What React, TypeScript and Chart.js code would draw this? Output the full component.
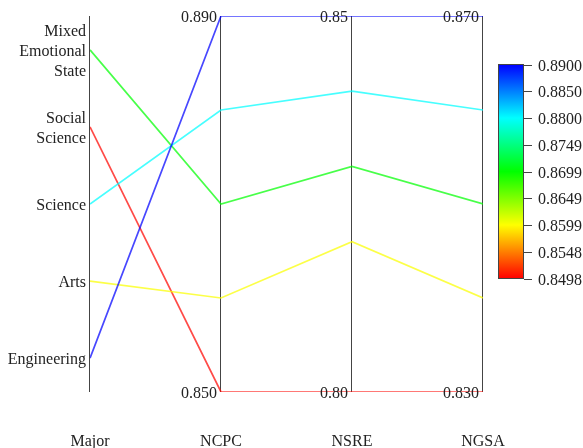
import React, { useEffect, useRef } from 'react';
import { Chart, registerables } from 'chart.js';

Chart.register(...registerables);

// ---- data ----
const dimensions = ['Major', 'NCPC', 'NSRE', 'NGSA'];
const majorCategories = ['Engineering', 'Arts', 'Science', 'Social Science', 'Mixed Emotional State'];
const majorLabelLines = [['Engineering'], ['Arts'], ['Science'], ['Social', 'Science'], ['Mixed', 'Emotional', 'State']];
const majorIndex = [0, 1, 2, 3, 4];
const ncpcValues = [0.890, 0.860, 0.880, 0.850, 0.870];
const nsreValues = [0.85, 0.82, 0.84, 0.80, 0.83];
const ngsaValues = [0.870, 0.840, 0.860, 0.830, 0.850];
const majorRange = [-0.44, 4.44];
const ncpcRange = [0.850, 0.890];
const nsreRange = [0.80, 0.85];
const ngsaRange = [0.830, 0.870];
const ncpcTickLabels = ['0.850', '0.890'];
const nsreTickLabels = ['0.80', '0.85'];
const ngsaTickLabels = ['0.830', '0.870'];
const colorRange = [0.8498, 0.8900];
const colorbarTickValues = [0.8498, 0.8548, 0.8599, 0.8649, 0.8699, 0.8749, 0.8800, 0.8850, 0.8900];
const colorbarTickLabels = ['0.8498', '0.8548', '0.8599', '0.8649', '0.8699', '0.8749', '0.8800', '0.8850', '0.8900'];

const FONT = '16px "Liberation Serif"';
const TEXT = '#222';

const colorStops: [number, number[]][] = [
  [0, [255, 0, 0]],
  [0.25, [255, 255, 0]],
  [0.5, [0, 255, 0]],
  [0.75, [0, 255, 255]],
  [1, [0, 0, 255]],
];

function colorAt(t: number): number[] {
  t = Math.max(0, Math.min(1, t));
  for (let i = 1; i < colorStops.length; i++) {
    const [t1, c1] = colorStops[i];
    const [t0, c0] = colorStops[i - 1];
    if (t <= t1) {
      const f = (t - t0) / (t1 - t0);
      return c0.map((v, k) => Math.round(v + (c1[k] - v) * f));
    }
  }
  return colorStops[colorStops.length - 1][1];
}

const norm = (v: number, r: number[]) => (v - r[0]) / (r[1] - r[0]);

const datasets = majorCategories.map((name, i) => {
  const t = norm(ncpcValues[i], colorRange);
  const c = colorAt(t);
  return {
    label: name,
    data: [
      { x: 0, y: norm(majorIndex[i], majorRange) },
      { x: 1, y: norm(ncpcValues[i], ncpcRange) },
      { x: 2, y: norm(nsreValues[i], nsreRange) },
      { x: 3, y: norm(ngsaValues[i], ngsaRange) },
    ],
    borderColor: `rgba(${c[0]},${c[1]},${c[2]},0.72)`,
    borderWidth: 1.7,
    pointRadius: 0,
    tension: 0,
    fill: false,
  };
});

const numericAxes = [
  { range: ncpcRange, labels: ncpcTickLabels },
  { range: nsreRange, labels: nsreTickLabels },
  { range: ngsaRange, labels: ngsaTickLabels },
];

const parcoordsPlugin = {
  id: 'parcoords',
  beforeDatasetsDraw(chart: any) {
    const { ctx, chartArea, scales } = chart;
    ctx.save();
    ctx.strokeStyle = '#444';
    ctx.lineWidth = 1;
    dimensions.forEach((_, i) => {
      const x = scales.x.getPixelForValue(i) - 0.5;
      ctx.beginPath();
      ctx.moveTo(x, chartArea.top);
      ctx.lineTo(x, chartArea.bottom);
      ctx.stroke();
    });
    ctx.restore();
  },
  afterDatasetsDraw(chart: any) {
    const { ctx, scales } = chart;
    const xs = scales.x;
    const ys = scales.y;
    ctx.save();
    ctx.font = FONT;
    ctx.fillStyle = TEXT;
    ctx.textBaseline = 'alphabetic';

    // Major category labels
    ctx.textAlign = 'right';
    const x0 = xs.getPixelForValue(0);
    majorLabelLines.forEach((lines, i) => {
      const y = ys.getPixelForValue(norm(majorIndex[i], majorRange));
      lines.forEach((ln, k) => {
        const off = (k - (lines.length - 1) / 2) * 20;
        ctx.fillText(ln, x0 - 4, y + 6 + off);
      });
    });

    // numeric axes min/max labels
    numericAxes.forEach((ax, j) => {
      const x = xs.getPixelForValue(j + 1);
      const yb = ys.getPixelForValue(0);
      const yt = ys.getPixelForValue(1);
      ctx.fillText(ax.labels[0], x - 4, yb + 6);
      ctx.fillText(ax.labels[1], x - 4, yt + 6);
    });

    // axis titles
    ctx.textAlign = 'center';
    dimensions.forEach((d, i) => {
      ctx.fillText(d, xs.getPixelForValue(i), 446);
    });

    // colorbar
    const cbL = 498, cbR = 524, cbT = 64.5, cbB = 278.5;
    const grad = ctx.createLinearGradient(0, cbB, 0, cbT);
    colorStops.forEach(([t, c]) => grad.addColorStop(t, `rgb(${c[0]},${c[1]},${c[2]})`));
    ctx.fillStyle = grad;
    ctx.fillRect(cbL, cbT, cbR - cbL, cbB - cbT);
    ctx.strokeStyle = '#444';
    ctx.lineWidth = 1;
    ctx.strokeRect(cbL + 0.5, cbT, cbR - cbL - 1, cbB - cbT);
    ctx.fillStyle = TEXT;
    ctx.textAlign = 'left';
    colorbarTickValues.forEach((v, i) => {
      const y = cbB - norm(v, colorRange) * (cbB - cbT);
      ctx.beginPath();
      ctx.moveTo(cbR, Math.round(y) + 0.5);
      ctx.lineTo(cbR + 8, Math.round(y) + 0.5);
      ctx.stroke();
      ctx.fillText(colorbarTickLabels[i], 538, y + 6);
    });
    ctx.restore();
  },
};

export default function App() {
  const ref = useRef<HTMLCanvasElement>(null);
  useEffect(() => {
    const chart = new Chart(ref.current!, {
      type: 'line',
      data: { datasets: datasets as any },
      options: {
        animation: false,
        responsive: true,
        maintainAspectRatio: false,
        layout: { padding: { left: 90, right: 100, top: 16, bottom: 56 } },
        plugins: { legend: { display: false }, tooltip: { enabled: false } },
        scales: {
          x: { type: 'linear', min: 0, max: 3, display: false },
          y: { type: 'linear', min: 0, max: 1, display: false },
        },
      },
      plugins: [parcoordsPlugin],
    });
    let alive = true;
    if ((document as any).fonts && (document as any).fonts.load) {
      (document as any).fonts.load(FONT).then(() => {
        if (alive) chart.draw();
      }).catch(() => {});
    }
    return () => {
      alive = false;
      chart.destroy();
    };
  }, []);
  return (
    <div style={{ position: 'fixed', left: 0, top: 0, width: 583, height: 448, background: '#fff', fontFamily: '"Liberation Serif"' }}>
      <span style={{ position: 'absolute', left: -9999, font: FONT }}>.</span>
      <canvas ref={ref} />
    </div>
  );
}
